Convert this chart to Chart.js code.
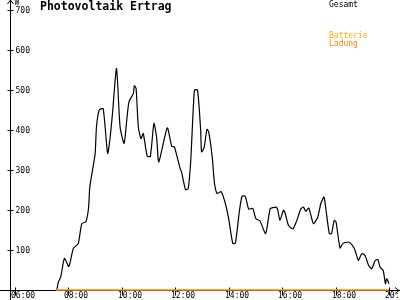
<!DOCTYPE html>
<html>
<head>
<meta charset="utf-8">
<script src="https://cdn.jsdelivr.net/npm/chart.js@4"></script>
<style>
  body { margin: 0; background: #fff; }
  #wrap { width: 400px; height: 300px; }
</style>
</head>
<body>
<div id="wrap"><canvas id="chartCanvas" width="400" height="300"></canvas></div>
<script>
// Gesamt (W) over the day
const times = ['05:45','07:32','07:37','07:43','07:51','08:01','08:11','08:22','08:30','08:39','08:45','08:48','08:54','09:00','09:03','09:09','09:18','09:28','09:33','09:39','09:48','09:56','10:05','10:11','10:16','10:26','10:28','10:32','10:37','10:43','10:48','10:57','11:04','11:12','11:18','11:23','11:42','11:52','11:58','12:11','12:14','12:23','12:29','12:35','12:43','12:50','12:57','12:59','13:05','13:11','13:15','13:23','13:28','13:34','13:43','13:52','14:00','14:09','14:15','14:24','14:30','14:37','14:45','14:54','15:01','15:10','15:23','15:33','15:40','15:46','15:50','15:55','16:03','16:06','16:14','16:24','16:33','16:42','16:48','16:53','17:00','17:10','17:20','17:27','17:34','17:40','17:46','17:51','17:57','18:01','18:10','18:16','18:29','18:36','18:44','18:51','18:59','19:06','19:14','19:21','19:29','19:35','19:40','19:47','19:52','19:55','20:00'];
const gesamt = [0,0,20,35,80,60,105,117,167,171,204,258,300,342,408,450,454,342,375,442,554,408,367,425,471,492,511,504,408,379,392,335,335,417,383,321,406,360,358,304,296,252,254,329,500,500,400,346,358,402,396,333,268,242,247,219,179,118,118,198,235,235,203,205,179,174,142,204,207,208,202,175,200,196,163,154,175,204,208,198,206,167,183,217,233,188,142,142,175,171,106,117,121,115,100,75,92,88,63,54,75,77,58,50,17,30,17];

// Batterie / Ladung stay at zero
const battTimes = ['07:32','20:00'];
const batterie = [0,0];
const ladung = [0,0];

const xTicks = ['06:00','08:00','10:00','12:00','14:00','16:00','18:00','20:00'];
const yTicks = [100,200,300,400,500,600,700];

function toHours(t) {
  const p = t.split(':');
  return +p[0] + p[1] / 60;
}

function points(ts, vals) {
  return ts.map((t, i) => ({ x: toHours(t), y: vals[i] }));
}

const mono = '"DejaVu Sans Mono", monospace';

const axesPlugin = {
  id: 'axes',
  beforeDatasetsDraw(chart) {
    const { ctx, scales: { x, y } } = chart;
    const ax = x.left;
    const ay = y.bottom;
    ctx.save();
    ctx.strokeStyle = '#000';
    ctx.fillStyle = '#000';
    ctx.lineWidth = 1;
    ctx.beginPath();
    ctx.moveTo(ax, 300);
    ctx.lineTo(ax, 0);
    ctx.moveTo(ax - 3, 4);
    ctx.lineTo(ax, 0);
    ctx.lineTo(ax + 3, 4);
    ctx.moveTo(0, ay);
    ctx.lineTo(400, ay);
    ctx.moveTo(395, ay - 3);
    ctx.lineTo(399, ay);
    ctx.lineTo(395, ay + 3);
    ctx.stroke();

    ctx.font = '8px ' + mono;
    ctx.textBaseline = 'middle';
    ctx.textAlign = 'left';
    yTicks.forEach(v => {
      const py = Math.round(y.getPixelForValue(v)) + 0.5;
      ctx.beginPath();
      ctx.moveTo(ax - 3, py);
      ctx.lineTo(ax + 3, py);
      ctx.stroke();
      ctx.fillText(String(v), ax + 5, py);
    });
    ctx.fillText('W', ax + 4, 3);

    ctx.textBaseline = 'top';
    xTicks.forEach(t => {
      const px = Math.round(x.getPixelForValue(toHours(t))) + 0.5;
      ctx.beginPath();
      ctx.moveTo(px, ay - 3);
      ctx.lineTo(px, ay + 5);
      ctx.stroke();
      ctx.fillText(t, px - 4.5, 292);
    });
    ctx.restore();
  },
  afterDraw(chart) {
    const { ctx } = chart;
    ctx.save();
    ctx.textAlign = 'left';
    ctx.textBaseline = 'middle';
    ctx.fillStyle = '#000';
    ctx.font = 'bold 11.5px ' + mono;
    ctx.fillText('Photovoltaik Ertrag', 40, 7.5);
    ctx.font = '8px ' + mono;
    ctx.fillText('Gesamt', 329, 5);
    ctx.fillStyle = '#ffaa00';
    ctx.fillText('Batterie', 329, 36);
    ctx.fillStyle = '#ff8000';
    ctx.fillText('Ladung', 329, 44);
    ctx.restore();
  }
};

new Chart(document.getElementById('chartCanvas'), {
  type: 'line',
  data: {
    datasets: [{
      label: 'Gesamt',
      data: points(times, gesamt),
      borderColor: '#000',
      borderWidth: 1.2,
      pointRadius: 0,
      tension: 0.2,
      fill: false,
      order: 3
    }, {
      label: 'Batterie',
      data: points(battTimes, batterie),
      borderColor: '#ffaa00',
      borderWidth: 2,
      pointRadius: 0,
      fill: false,
      order: 2
    }, {
      label: 'Ladung',
      data: points(battTimes, ladung),
      borderColor: '#ff8000',
      borderWidth: 2,
      pointRadius: 0,
      fill: false,
      order: 1
    }]
  },
  options: {
    responsive: false,
    animation: false,
    devicePixelRatio: 1,
    layout: { padding: { left: 10.5, right: 0, top: 0, bottom: 9.5 } },
    plugins: { legend: { display: false }, tooltip: { enabled: false } },
    scales: {
      x: { type: 'linear', display: false, min: 5.8315, max: 20.412 },
      y: { display: false, min: 0, max: 725 }
    }
  },
  plugins: [axesPlugin]
});
</script>
</body>
</html>
